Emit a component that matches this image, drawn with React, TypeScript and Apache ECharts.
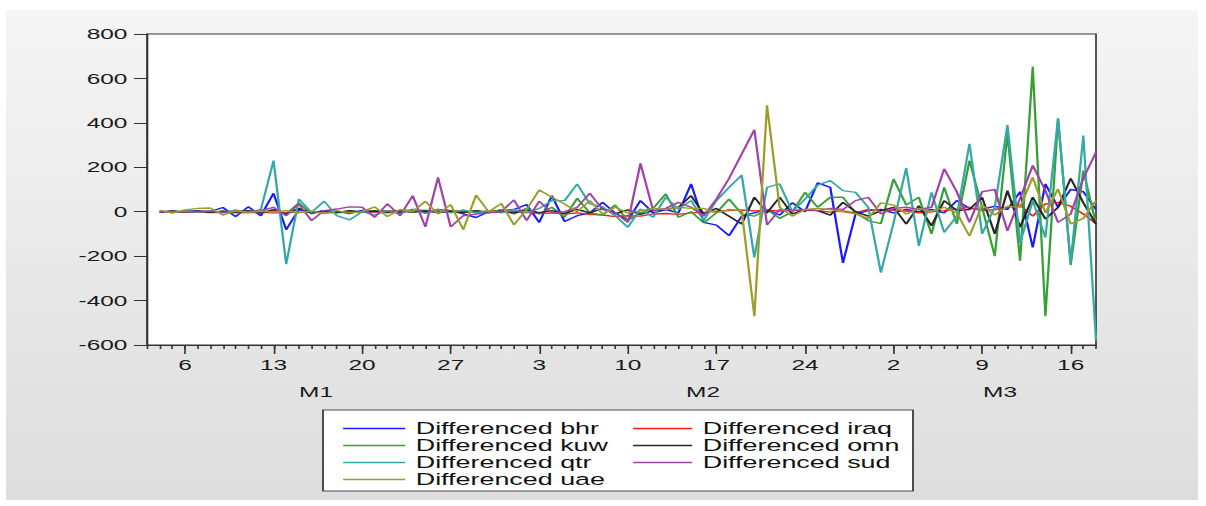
import React, { useEffect, useRef } from 'react';
import * as echarts from 'echarts';

// Daily categories Jan 3 .. Mar 18 (2020)
const MONTHS: [number, number, number][] = [
  [1, 3, 31],
  [2, 1, 29],
  [3, 1, 18],
];
const dates: string[] = [];
for (const [m, d0, d1] of MONTHS) {
  for (let d = d0; d <= d1; d++) {
    dates.push(`2020-${String(m).padStart(2, '0')}-${String(d).padStart(2, '0')}`);
  }
}

const MAJOR_TICKS = [
  '2020-01-06', '2020-01-13', '2020-01-20', '2020-01-27',
  '2020-02-03', '2020-02-10', '2020-02-17', '2020-02-24',
  '2020-03-02', '2020-03-09', '2020-03-16',
];
const MONTH_LABELS = ['M1', 'M2', 'M3'];

const bhr = [null,
  0, -3, 2, 3, 0, 19, -22, 22, -18, 83,
  -81, 10, -5, 5, 2, -8, 6, 0, 5, -5,
  8, -5, 10, 5, -10, -26, 0, 5, 10, 32,
  -48, 72, -44, -18, -5, 42, -5, -40, 50, -5,
  10, -5, 125, -48, -60, -108, -20, -5, 10, -15,
  40, 0, 130, 110, -230, -10, 5, 10, -5, 10,
  0, 10, -5, 50, 15, 10, 25, 10, 90, -161,
  125, 20, 100, 90, 10];
const iraq = [null,
  0, -2, -3, -2, -4, -3, -5, -4, -3, -5,
  -4, -2, -3, -5, -4, -2, -3, -1, 2, 5,
  8, 6, 3, 5, 2, -2, 3, 5, 2, -3,
  -8, -5, -10, -5, -12, -15, -22, -18, -20, -10,
  -8, -12, -5, -3, 2, 5, 8, 4, 6, 3,
  5, 8, 5, -2, 3, -5, 10, 5, 8, 3,
  -5, 0, 5, 12, 20, 5, 10, 20, 30, -20,
  35, 42, 25, -10, -53];
const kuw = [null,
  5, -5, 3, 0, -3, 2, 0, 5, -5, 10,
  -10, 40, -10, 5, -5, 3, 0, 5, -5, 3,
  -3, 5, -5, 3, -3, 5, -5, 10, -10, 15,
  -10, 20, -25, 60, -5, -15, 30, -40, -5, 15,
  80, -25, 0, -50, -5, 57, -10, -20, 10, -30,
  0, 87, 20, 65, 65, -5, -40, -54, 147, 30,
  65, -100, 110, -55, 230, 20, -200, 351, -221, 652,
  -470, 420, -240, 185, -55];
const omn = [null,
  -3, 5, -2, 3, -3, 2, -2, 5, -5, 8,
  -10, 15, -5, 3, -3, 5, -2, 3, -3, 4,
  -2, 3, -3, 2, -4, 5, -3, 2, -5, 6,
  -4, 5, -8, 10, -5, 15, -10, 8, -12, 5,
  10, 20, 72, -10, 15, -20, -55, 65, -5, 65,
  -10, 10, 5, -15, 42, 0, -20, 5, 20, -55,
  27, -63, 50, 5, 10, 65, -100, 95, -70, 65,
  -33, 20, 150, 40, -55];
const qtr = [null,
  3, -2, 2, -3, 5, -5, 8, -5, 10, 230,
  -236, 57, -3, 47, -18, -37, 0, -15, 5, -10,
  12, -8, 10, -5, 8, -5, 5, -5, 10, -5,
  15, 50, 50, 125, 35, 23, -18, -70, 12, -25,
  65, 12, 50, -40, 50, 110, 165, -206, 110, 125,
  0, 57, 120, 140, 95, 87, 20, -274, -50, 197,
  -154, 87, -93, -20, 306, -100, 20, 390, -140, 50,
  -116, 420, -230, 343, -580];
const sud = [null,
  0, 2, -2, 0, 3, -3, 2, 0, 5, 20,
  -18, 35, -40, 5, 12, 22, 20, -25, 35, -18,
  72, -68, 155, -68, -18, -10, -5, 0, 53, -40,
  47, -5, 0, 20, 83, 10, -5, -48, 218, 5,
  15, 42, 20, -20, 57, 150, 260, 369, -60, 10,
  5, 10, 5, 15, 10, 50, 65, -10, 15, 20,
  10, 20, 193, 90, -48, 90, 100, -86, 60, 208,
  95, -48, -10, 150, 268];
const uae = [null,
  5, -5, 8, 15, 17, -15, 5, -3, 2, 0,
  5, -5, 3, -8, 5, -5, 0, 22, -22, 10,
  0, 47, -10, 32, -81, 75, 0, 37, -59, 10,
  98, 65, 35, 0, 50, -10, 20, -5, 5, 15,
  10, 20, 15, 15, -5, 10, 5, -470, 479, 20,
  -20, 10, 15, 10, 0, -10, -30, 40, 30, -10,
  15, 0, 20, -5, -110, 30, -15, 25, 20, 155,
  -5, 102, -55, -30, 50];

const SERIES = [
  { name: 'Differenced bhr', data: bhr, color: '#1a1aff' },
  { name: 'Differenced iraq', data: iraq, color: '#ff1a1a' },
  { name: 'Differenced kuw', data: kuw, color: '#35a035' },
  { name: 'Differenced omn', data: omn, color: '#262626' },
  { name: 'Differenced qtr', data: qtr, color: '#35a8a8' },
  { name: 'Differenced sud', data: sud, color: '#a340aa' },
  { name: 'Differenced uae', data: uae, color: '#9d9d2c' },
];

const W = 1206;
const H = 506;
const WU = 740; // un-stretched width
const S = W / WU; // horizontal stretch
const FONT = '"Liberation Sans", Arial, sans-serif';

export default function App() {
  const ref = useRef<HTMLDivElement>(null);
  useEffect(() => {
    document.body.style.margin = '0';
    if (!ref.current) return;
    const chart = echarts.init(ref.current, undefined, { renderer: 'svg', width: WU, height: H });
    const ux = (x: number) => x / S;
    const isMajor = (_i: number, v: string) => MAJOR_TICKS.includes(v);
    const axisColor = '#333';
    const legendCommon = {
      orient: 'vertical', top: 415, itemHeight: 1.6, itemGap: 0, icon: 'rect',
      selectedMode: false, z: 10,
      textStyle: { fontSize: 16.5, lineHeight: 17, color: '#111', fontFamily: FONT, padding: [0, 0, 0, 1.5] },
    };
    const option: any = {
      animation: false,
      textStyle: { fontFamily: FONT },
      grid: {
        left: ux(147), right: WU - ux(1096), top: 34, bottom: H - 345,
        show: true, backgroundColor: '#ffffff', borderColor: axisColor, borderWidth: 1,
      },
      xAxis: [
        {
          type: 'category', data: dates, boundaryGap: false, position: 'bottom',
          axisLine: { show: true, onZero: false, lineStyle: { color: axisColor, width: 1 } },
          axisTick: { show: true, interval: 0, length: 4, lineStyle: { color: axisColor } },
          axisLabel: { show: false }, splitLine: { show: false },
        },
        {
          type: 'category', data: dates, boundaryGap: false, position: 'bottom',
          axisLine: { show: false, onZero: false },
          axisTick: { show: true, interval: isMajor, length: 9, lineStyle: { color: axisColor } },
          axisLabel: {
            show: true, interval: isMajor, margin: 12, fontSize: 15, color: '#1a1a1a', fontFamily: FONT,
            formatter: (v: string) => String(Number(v.slice(8))),
          },
          splitLine: { show: false },
        },
      ],
      yAxis: {
        type: 'value', min: -600, max: 800, interval: 200,
        axisLine: { show: true, lineStyle: { color: axisColor, width: 1 } },
        axisTick: { show: true, length: 8, lineStyle: { color: axisColor } },
        axisLabel: { fontSize: 15, margin: 12, color: '#1a1a1a', fontFamily: FONT },
        splitLine: { show: false },
      },
      legend: [
        {
          ...legendCommon,
          data: ['Differenced bhr', 'Differenced kuw', 'Differenced qtr', 'Differenced uae'],
          left: ux(335), itemWidth: ux(397) - ux(335),
        },
        {
          ...legendCommon,
          data: ['Differenced iraq', 'Differenced omn', 'Differenced sud'],
          left: ux(625), itemWidth: ux(684) - ux(625),
        },
      ],
      graphic: [
        {
          type: 'rect', z: 1,
          shape: { x: ux(323), y: 410, width: ux(913) - ux(323), height: 81 },
          style: { fill: '#ffffff', stroke: '#4a4a4a', lineWidth: 1.2 },
        },
        ...MONTH_LABELS.map((t, k) => ({
          type: 'text', z: 5,
          x: ux([316, 703, 1000][k]), y: 392,
          style: { text: t, fontSize: 15, fontFamily: FONT, fill: '#1a1a1a', textAlign: 'center', textVerticalAlign: 'middle' },
        })),
      ],
      series: SERIES.map((s) => ({
        name: s.name, type: 'line', data: s.data, xAxisIndex: 0,
        showSymbol: false, symbol: 'none', connectNulls: false,
        lineStyle: { width: 1.4, color: s.color }, itemStyle: { color: s.color },
      })),
    };
    chart.setOption(option);
    return () => chart.dispose();
  }, []);

  return (
    <div style={{ width: W, height: H, position: 'relative', overflow: 'hidden', background: '#ffffff' }}>
      <div style={{ position: 'absolute', left: 6, top: 10, right: 8, bottom: 6, background: 'linear-gradient(#f5f5f5, #dddddd)' }} />
      <div
        ref={ref}
        style={{ position: 'absolute', left: 0, top: 0, width: WU, height: H, transform: `scaleX(${S})`, transformOrigin: '0 0' }}
      />
    </div>
  );
}
